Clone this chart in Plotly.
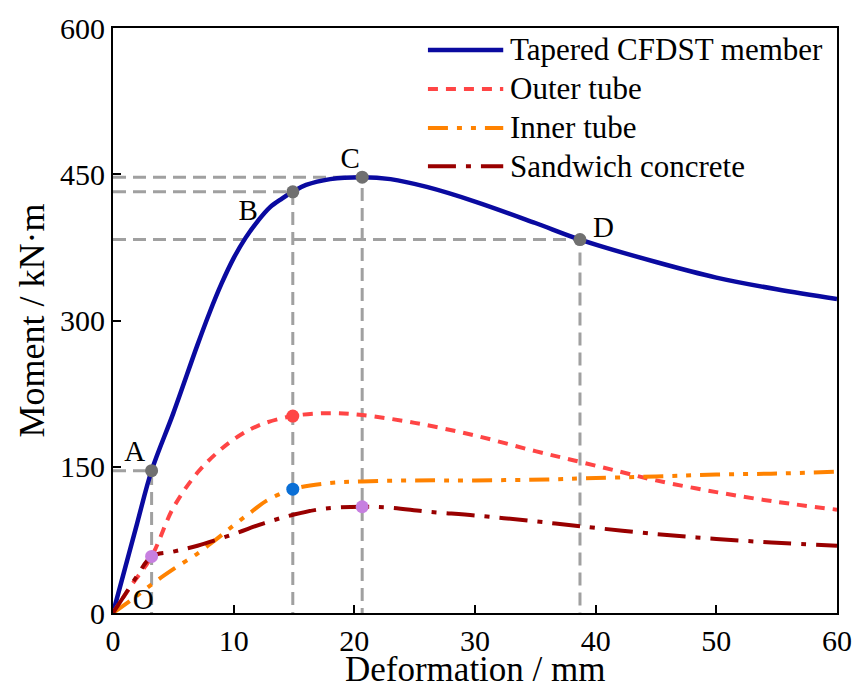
import plotly.graph_objects as go

FONT = "Liberation Serif, Times New Roman, serif"

# ---- data ----
member_x = [0, 1, 2, 3.2, 5, 7, 8, 9, 10, 11, 12, 13, 14, 14.9, 16, 18, 20.65, 23, 26, 30, 35, 38.7, 45, 50, 55, 60]
member_y = [0, 46, 92, 146, 205, 275, 308, 338, 364, 385, 402, 416, 425, 432, 439, 445, 447, 445, 437, 422, 400, 383, 360, 344, 332, 322]

outer_x = [0, 1.5, 3.2, 5, 7, 8.5, 10, 12, 14.9, 18, 20.65, 25, 30, 35, 38.7, 42, 45, 50, 55, 60]
outer_y = [0, 28, 58, 108, 144, 163, 178, 192, 202, 205, 203, 195, 182, 166, 155, 145, 136, 124, 114, 106]

inner_x = [0, 1.7, 3.6, 5, 7, 8.6, 10, 11.5, 12.7, 14.9, 17.7, 20.65, 25, 30, 36, 38.7, 45, 50, 55, 60]
inner_y = [0, 15, 33, 45, 61, 76, 90, 104, 115, 127, 133, 135, 136, 136, 137, 138, 140, 142, 143, 145]

sand_x = [0, 1, 2, 3.2, 5, 7, 10, 12.5, 15, 17.5, 20.65, 23, 26, 30, 35, 38.7, 45, 50, 55, 60]
sand_y = [0, 19, 38, 58, 63, 69, 81, 92, 101, 107, 109, 108, 104, 100, 94, 89, 81, 76, 72, 69]

key_labels = ["A", "B", "C", "D"]
key_x = [3.2, 14.9, 20.65, 38.7]
key_y = [146, 432, 447, 383]
label_x = [1.8, 11.2, 19.65, 40.65]
label_y = [163, 411, 464, 393]
origin_label = ("O", 2.5, 12)

outer_pt = ([14.9], [202])
inner_pt = ([14.9], [127])
sand_pts = ([3.2, 20.65], [58, 109])

x_ticks = [0, 10, 20, 30, 40, 50, 60]
y_ticks = [0, 150, 300, 450, 600]

x_title = "Deformation / mm"
y_title = "Moment / kN·m"

series = [
    ("Tapered CFDST member", member_x, member_y, "#0a0aa0", "solid", 4.5),
    ("Outer tube", outer_x, outer_y, "#ff4545", "10px,8px", 4),
    ("Inner tube", inner_x, inner_y, "#ff8200", "20px,9px,5px,9px,5px,9px", 4),
    ("Sandwich concrete", sand_x, sand_y, "#990000", "28px,10px,5px,10px", 4),
]

fig = go.Figure()

GRAY = "#a0a0a0"
for kx, ky in zip(key_x, key_y):
    fig.add_trace(go.Scatter(x=[0, kx, kx], y=[ky, ky, 0], mode="lines",
                             line=dict(color=GRAY, width=3, dash="13px,7px"),
                             showlegend=False, hoverinfo="skip"))

for name, xs, ys, col, dash, w in series:
    fig.add_trace(go.Scatter(x=xs, y=ys, mode="lines", name=name,
                             line=dict(color=col, width=w, dash=dash, shape="spline", smoothing=1.0),
                             showlegend=False))

fig.add_trace(go.Scatter(x=key_x, y=key_y, mode="markers",
                         marker=dict(color="#707070", size=13), showlegend=False))
fig.add_trace(go.Scatter(x=outer_pt[0], y=outer_pt[1], mode="markers",
                         marker=dict(color="#ff4545", size=13), showlegend=False))
fig.add_trace(go.Scatter(x=inner_pt[0], y=inner_pt[1], mode="markers",
                         marker=dict(color="#0a6fd6", size=13), showlegend=False))
fig.add_trace(go.Scatter(x=sand_pts[0], y=sand_pts[1], mode="markers",
                         marker=dict(color="#c77fe0", size=13), showlegend=False))

fig.add_trace(go.Scatter(x=label_x + [origin_label[1]], y=label_y + [origin_label[2]],
                         mode="text", text=key_labels + [origin_label[0]],
                         textfont=dict(family=FONT, size=29, color="black"),
                         showlegend=False, hoverinfo="skip"))

leg_y = [0.9625, 0.8958, 0.8292, 0.7636]
for (name, xs, ys, col, dash, w), ly in zip(series, leg_y):
    fig.add_shape(type="line", xref="paper", yref="paper", x0=0.435, x1=0.539, y0=ly, y1=ly,
                  line=dict(color=col, width=w, dash=dash))
    fig.add_annotation(xref="paper", yref="paper", x=0.545, y=ly, text=name, showarrow=False,
                       xanchor="left", yanchor="middle",
                       font=dict(family=FONT, size=31, color="black"))

fig.add_annotation(xref="paper", yref="paper", x=0.5, y=-0.096, text=x_title, showarrow=False,
                   xanchor="center", yanchor="middle",
                   font=dict(family=FONT, size=35, color="black"))

axis_common = dict(showline=True, linecolor="black", linewidth=2, mirror=True,
                   ticks="inside", ticklen=8, tickwidth=2, tickcolor="black",
                   showgrid=False, zeroline=False, automargin=False,
                   tickfont=dict(family=FONT, size=30, color="black"))

fig.update_xaxes(range=[0, 60], tickvals=x_ticks, **axis_common)
fig.update_yaxes(range=[0, 600], tickvals=y_ticks,
                 title=dict(text=y_title, font=dict(family=FONT, size=36, color="black"), standoff=4),
                 **axis_common)

fig.update_layout(width=856, height=689, margin=dict(l=113, r=19, t=28, b=76, autoexpand=False),
                  plot_bgcolor="white", paper_bgcolor="white", showlegend=False)

fig.write_html("out.html")
